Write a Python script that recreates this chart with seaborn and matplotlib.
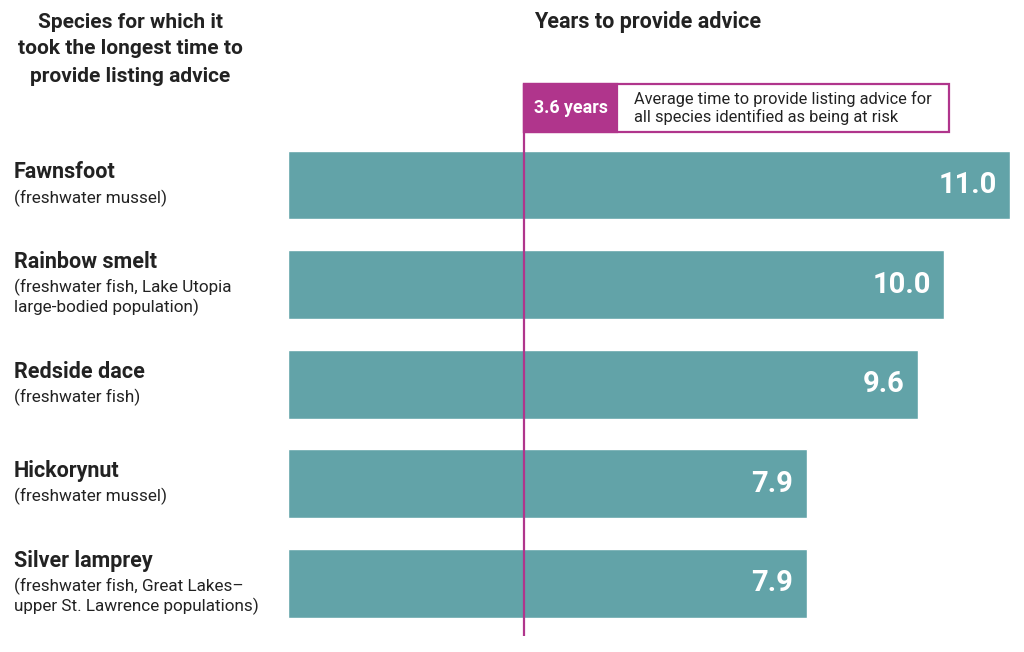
import matplotlib
matplotlib.use("Agg")
import matplotlib.pyplot as plt
import matplotlib.transforms as mtransforms
from matplotlib.patches import Rectangle
import seaborn as sns

# ---------------------------------------------------------------------------
# Data
# ---------------------------------------------------------------------------
species = ["Fawnsfoot", "Rainbow smelt", "Redside dace", "Hickorynut", "Silver lamprey"]
details = [
    ["(freshwater mussel)"],
    ["(freshwater fish, Lake Utopia", "large-bodied population)"],
    ["(freshwater fish)"],
    ["(freshwater mussel)"],
    ["(freshwater fish, Great Lakes\u2013", "upper St. Lawrence populations)"],
]
years = [11.0, 10.0, 9.6, 7.9, 7.9]
average_years = 3.6
left_header = ["Species for which it", "took the longest time to", "provide listing advice"]

BAR = "#62A3A8"
PURPLE = "#B0358C"
DARK = "#222222"

sns.set_style("white")
plt.rcParams["font.family"] = ["Roboto", "DejaVu Sans"]

W, H = 1024, 652
fig = plt.figure(figsize=(W / 100, H / 100), dpi=100)

# axes: x 0 at px 288, 11 at px 1010; y from px 84 to 636
ax_left, ax_right, ax_top, ax_bot = 288, 1010, 84, 636
ax = fig.add_axes([ax_left / W, 1 - ax_bot / H, (ax_right - ax_left) / W, (ax_bot - ax_top) / H])

sns.barplot(x=years, y=species, orient="h", color=BAR, saturation=1,
            width=0.69, ax=ax)

px_per_cat = 99.6
c0 = 185
y_top = (ax_top - c0) / px_per_cat
y_bot = (ax_bot - c0) / px_per_cat
ax.set_xlim(0, 11)
ax.set_ylim(y_bot, y_top)
ax.set_xticks([])
ax.set_yticks([])
ax.set_xlabel("")
ax.set_ylabel("")
for s in ax.spines.values():
    s.set_visible(False)

# value labels
for i, v in enumerate(years):
    ax.annotate(f"{v:.1f}", xy=(v, i), xytext=(-9.5, 0), textcoords="offset points",
                ha="right", va="center", color="white", fontsize=21, fontweight="bold")

# species labels
trans = mtransforms.blended_transform_factory(fig.transFigure, ax.transData)
for i, (name, sub) in enumerate(zip(species, details)):
    n = len(sub)
    name_y = i - (12.5 + 10 * (n - 1)) / px_per_cat
    ax.text(14 / W, name_y, name, transform=trans, ha="left", va="center",
            fontsize=15.5, fontweight="semibold", color=DARK)
    for k, line in enumerate(sub):
        ax.text(14 / W, name_y + (25.5 + 20 * k) / px_per_cat, line, transform=trans,
                ha="left", va="center", fontsize=12.3, color=DARK)

# average line and annotation box
ax.axvline(average_years, color=PURPLE, lw=1.6, zorder=5)
px_x = 11 / (ax_right - ax_left)
box_top = y_top
box_bot = (132 - c0) / px_per_cat
x_split = (617 - ax_left) * px_x
x_end = (949 - ax_left) * px_x
ax.add_patch(Rectangle((average_years, box_bot), x_end - average_years, box_top - box_bot,
                       facecolor="white", edgecolor=PURPLE, lw=1.6, zorder=6, clip_on=False))
ax.add_patch(Rectangle((average_years, box_bot), x_split - average_years, box_top - box_bot,
                       facecolor=PURPLE, edgecolor=PURPLE, lw=1.6, zorder=7, clip_on=False))
ax.text((average_years + x_split) / 2, (box_top + box_bot) / 2, f"{average_years} years",
        ha="center", va="center", color="white", fontsize=12.8, fontweight="bold", zorder=8)
ax.text((634 - ax_left) * px_x, (box_top + box_bot) / 2,
        "Average time to provide listing advice for\nall species identified as being at risk",
        ha="left", va="center", color=DARK, fontsize=11.8, linespacing=1.15, zorder=8)

# headers
for k, line in enumerate(left_header):
    fig.text(130 / W, 1 - (22 + 27 * k) / H, line, ha="center", va="center",
             fontsize=15, fontweight="bold", color=DARK)
fig.text(648 / W, 1 - 22 / H, "Years to provide advice", ha="center", va="center",
         fontsize=15.5, fontweight="bold", color=DARK)

fig.savefig("out.png", dpi=100)
